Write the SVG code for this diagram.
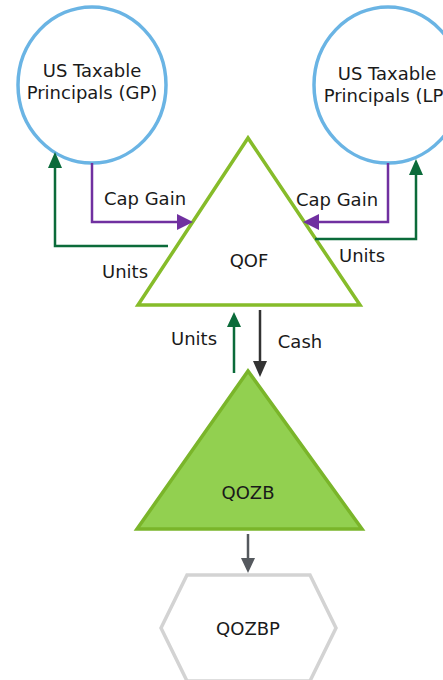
<svg xmlns="http://www.w3.org/2000/svg" width="443" height="680" viewBox="0 0 443 680">
<style>
text{font-family:"DejaVu Sans",Verdana,sans-serif;font-size:18px;fill:#1a1a1a;text-anchor:middle}
.circ{fill:#fff;stroke:#6ab4e4;stroke-width:3.5}
.tri{fill:#fff;stroke:#86bc2a;stroke-width:3.5;stroke-linejoin:miter}
.trif{fill:#92d050;stroke:#7ab52a;stroke-width:3.5}
.hex{fill:#fff;stroke:#d3d3d3;stroke-width:3.5}
.pur{fill:none;stroke:#7030a0;stroke-width:2.5}
.grn{fill:none;stroke:#0b6b3a;stroke-width:2.5}
.dk{fill:none;stroke:#333;stroke-width:2.5}
.gr{fill:none;stroke:#55595e;stroke-width:2.5}
</style>
<g id="gp"><ellipse class="circ" cx="92" cy="85" rx="74" ry="78"/><text x="92" y="77">US Taxable</text><text x="92" y="99">Principals (GP)</text></g>
<g id="lp"><ellipse class="circ" cx="388" cy="85" rx="74" ry="78"/><text x="387" y="80">US Taxable</text><text x="387" y="102">Principals (LP)</text></g>
<g id="qof"><polygon class="tri" points="248,138 138,305 360,305"/><text x="249" y="267">QOF</text></g>
<g id="qozb"><polygon class="trif" points="248,371 137,529 362,529"/><text x="248" y="499">QOZB</text></g>
<g id="qozbp"><polygon class="hex" points="187,575 310,575 336,628 310,681 187,681 161,628"/><text x="248" y="635">QOZBP</text></g>
<g id="connectors">
<polyline class="pur" points="92,163 92,222 178,222"/><polygon points="177,214 193,222 177,230" fill="#7030a0"/>
<polyline class="pur" points="388,163 388,222 318,222"/><polygon points="319,214 303,222 319,230" fill="#7030a0"/>
<polyline class="grn" points="168,246 55,246 55,167"/><polygon points="48,168 55,152 62,168" fill="#0b6b3a"/>
<polyline class="grn" points="315,239 416,239 416,174"/><polygon points="409,175 416,159 423,175" fill="#0b6b3a"/>
<line class="grn" x1="234" y1="373" x2="234" y2="326"/><polygon points="227,327 234,312 241,327" fill="#0b6b3a"/>
<line class="dk" x1="260" y1="310" x2="260" y2="362"/><polygon points="253,361 260,377 267,361" fill="#333"/>
<line class="gr" x1="248" y1="534" x2="248" y2="559"/><polygon points="241,558 248,573 255,558" fill="#55595e"/>
<text x="145" y="205">Cap Gain</text>
<text x="337" y="206">Cap Gain</text>
<text x="125" y="278">Units</text>
<text x="362" y="262">Units</text>
<text x="194" y="345">Units</text>
<text x="300" y="348">Cash</text>
</g>
</svg>
